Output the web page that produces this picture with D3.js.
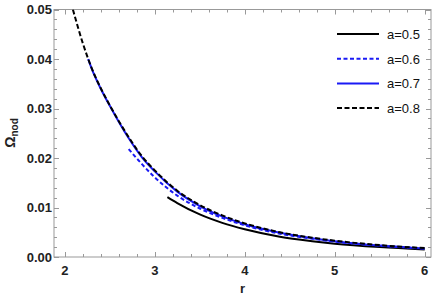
<!DOCTYPE html>
<html>
<head>
<meta charset="utf-8">
<script src="https://cdn.jsdelivr.net/npm/d3@7"></script>
<style>
  body { margin: 0; background: #fff; }
  svg { display: block; font-family: "Liberation Sans", Arial, sans-serif; }
</style>
</head>
<body>
<div id="chart"></div>
<script>
// values
var r05 = [3.14, 3.25, 3.5, 3.75, 4.0, 4.39, 4.75, 5.0, 5.5, 6.0];
var om05 = [0.0121, 0.0109, 0.0086, 0.0069, 0.0056, 0.0041, 0.0032, 0.0027, 0.0020, 0.0015];

var r06 = [2.71, 2.86, 3.0, 3.25, 3.5, 3.75, 4.0, 4.39, 4.75, 5.0, 5.5, 6.0];
var om06 = [0.0218, 0.0187, 0.0161, 0.0124, 0.0098, 0.0079, 0.0064, 0.0047, 0.0037, 0.0031, 0.0023, 0.0017];

var r07 = [2.26, 2.3, 2.4, 2.52, 2.7, 2.86, 3.0, 3.25, 3.5, 3.75, 4.0, 4.39, 4.75, 5.0, 5.5, 6.0];
var om07 = [0.0400, 0.0380, 0.0340, 0.0299, 0.0243, 0.0201, 0.0173, 0.0132, 0.0103, 0.0082, 0.0066, 0.0049, 0.0038, 0.0032, 0.0023, 0.0017];

var r08 = [2.09, 2.2, 2.3, 2.4, 2.52, 2.7, 2.86, 3.0, 3.25, 3.5, 3.75, 4.0, 4.39, 4.75, 5.0, 5.5, 6.0];
var om08 = [0.0500, 0.0432, 0.0381, 0.0341, 0.0300, 0.0245, 0.0203, 0.0175, 0.0134, 0.0105, 0.0084, 0.0068, 0.0050, 0.0039, 0.0033, 0.0024, 0.0018];

var labels = ["a=0.5", "a=0.6", "a=0.7", "a=0.8"];
var xTicks = [2, 3, 4, 5, 6];
var yTicks = [0, 0.01, 0.02, 0.03, 0.04, 0.05];

var series = [
    {name: labels[0], r: r05, v: om05, color: "#000", dash: null},
    {name: labels[1], r: r06, v: om06, color: "#1a1af5", dash: "4,2.5"},
    {name: labels[2], r: r07, v: om07, color: "#1a1af5", dash: null},
    {name: labels[3], r: r08, v: om08, color: "#000", dash: "5,2.5"}
];

var width = 436, height = 305;
var frame = {left: 54, right: 431, top: 9.5, bottom: 257};
var axisColor = "#999";

var svg = d3.select("#chart").append("svg")
    .attr("width", width)
    .attr("height", height);

var x = d3.scaleLinear().domain([1.88, 6.07]).range([frame.left, frame.right]);
var y = d3.scaleLinear().domain([0, 0.05]).range([frame.bottom, frame.top]);

// clip the curves to the frame
svg.append("clipPath").attr("id", "clip")
    .append("rect")
    .attr("x", frame.left).attr("y", frame.top)
    .attr("width", frame.right - frame.left)
    .attr("height", frame.bottom - frame.top);

// frame
svg.append("rect")
    .attr("x", frame.left).attr("y", frame.top)
    .attr("width", frame.right - frame.left)
    .attr("height", frame.bottom - frame.top)
    .attr("fill", "none")
    .attr("stroke", axisColor)
    .attr("stroke-width", 1);

// minor ticks every 0.2 / 0.002
var xMinor = d3.range(1.8, 6.1, 0.2).filter(function(d) { return d >= 1.88 && d <= 6.07; });
var yMinor = d3.range(0, 0.0501, 0.002);

function isMajor(v, step) { return Math.abs(v / step - Math.round(v / step)) < 1e-6; }

var tickG = svg.append("g").attr("stroke", axisColor).attr("stroke-width", 1);

xMinor.forEach(function(d) {
    var len = isMajor(d, 1) ? 5 : 3;
    var px = Math.round(x(d)) + 0.5;
    tickG.append("line").attr("x1", px).attr("x2", px)
        .attr("y1", frame.bottom).attr("y2", frame.bottom - len);
    tickG.append("line").attr("x1", px).attr("x2", px)
        .attr("y1", frame.top).attr("y2", frame.top + len);
});

yMinor.forEach(function(d) {
    var len = isMajor(d, 0.01) ? 5 : 3;
    var py = Math.round(y(d)) + 0.5;
    tickG.append("line").attr("y1", py).attr("y2", py)
        .attr("x1", frame.left).attr("x2", frame.left + len);
    tickG.append("line").attr("y1", py).attr("y2", py)
        .attr("x1", frame.right).attr("x2", frame.right - len);
});

// tick labels
svg.append("g").selectAll("text")
    .data(xTicks)
    .enter().append("text")
    .attr("x", function(d) { return x(d); })
    .attr("y", 275)
    .attr("text-anchor", "middle")
    .attr("font-size", 13)
    .attr("font-weight", "bold")
    .attr("fill", "#222")
    .text(function(d) { return d; });

svg.append("g").selectAll("text")
    .data(yTicks)
    .enter().append("text")
    .attr("x", frame.left - 2)
    .attr("y", function(d) { return y(d) + 4.5; })
    .attr("text-anchor", "end")
    .attr("font-size", 13)
    .attr("font-weight", "bold")
    .attr("fill", "#222")
    .text(function(d) { return d3.format(".2f")(d); });

// axis titles
svg.append("text")
    .attr("x", (frame.left + frame.right) / 2)
    .attr("y", 293)
    .attr("text-anchor", "middle")
    .attr("font-size", 13)
    .attr("font-weight", "bold")
    .attr("fill", "#222")
    .text("r");

var yl = svg.append("text")
    .attr("transform", "translate(15,133) rotate(-90)")
    .attr("text-anchor", "middle")
    .attr("font-size", 14)
    .attr("font-weight", "bold")
    .attr("fill", "#222");
yl.append("tspan").text("Ω");
yl.append("tspan").attr("font-size", 10).attr("dy", 3).text("nod");

// curves
var line = d3.line()
    .x(function(d) { return x(d[0]); })
    .y(function(d) { return y(d[1]); })
    .curve(d3.curveMonotoneX);

svg.append("g").attr("clip-path", "url(#clip)")
    .selectAll("path")
    .data(series)
    .enter().append("path")
    .attr("d", function(s) { return line(s.r.map(function(rv, i) { return [rv, s.v[i]]; })); })
    .attr("fill", "none")
    .attr("stroke", function(s) { return s.color; })
    .attr("stroke-width", 2)
    .attr("stroke-dasharray", function(s) { return s.dash; });

// legend
var legend = svg.append("g").selectAll("g")
    .data(series)
    .enter().append("g")
    .attr("transform", function(d, i) { return "translate(0," + (34 + i * 24.7) + ")"; });

legend.append("line")
    .attr("x1", 337).attr("x2", 379)
    .attr("y1", 0).attr("y2", 0)
    .attr("stroke", function(s) { return s.color; })
    .attr("stroke-width", 2)
    .attr("stroke-dasharray", function(s) { return s.dash; });

legend.append("text")
    .attr("x", 387)
    .attr("y", 5)
    .attr("font-size", 13)
    .attr("fill", "#111")
    .text(function(s) { return s.name; });
</script>
</body>
</html>
